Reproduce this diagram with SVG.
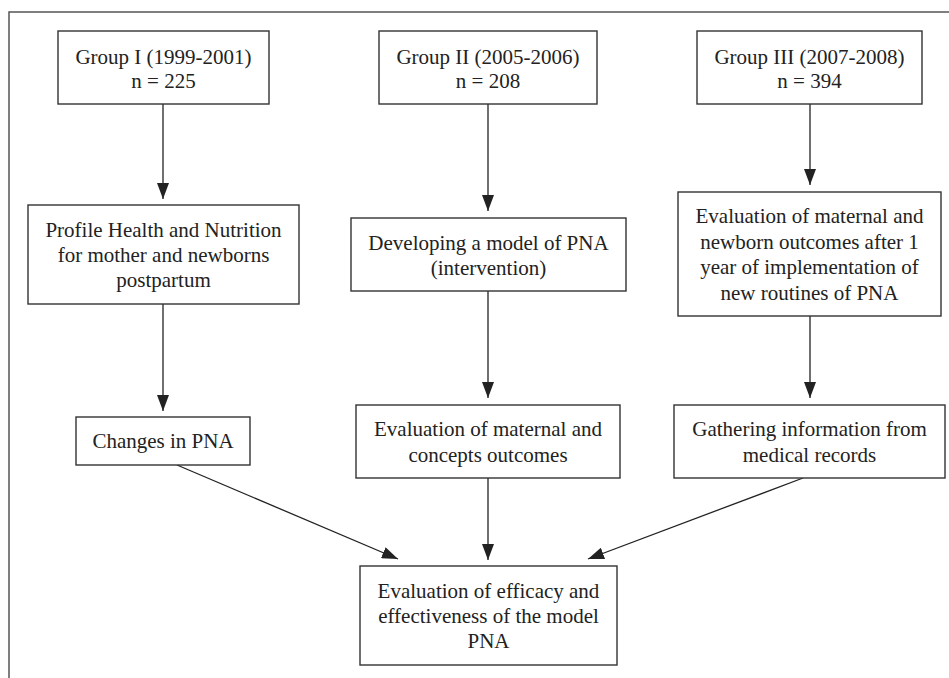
<svg xmlns="http://www.w3.org/2000/svg" width="949" height="678" viewBox="0 0 949 678">
<style>
.box{fill:#fff;stroke:#333;stroke-width:1.4}
.t{font-family:"Liberation Serif","Times New Roman",serif;font-size:21px;fill:#222;text-anchor:middle}
.c{stroke:#222;stroke-width:1.3;fill:none;marker-end:url(#ah)}
</style>
<defs>
<marker id="ah" markerUnits="userSpaceOnUse" markerWidth="16" markerHeight="12" refX="16" refY="6" orient="auto">
<path d="M0,0 L16,6 L0,12 z" fill="#222"/>
</marker>
</defs>
<rect width="949" height="678" fill="#fff"/>
<path d="M9,678 V12 H949" fill="none" stroke="#555" stroke-width="1.5"/>
<g id="connectors">
<line class="c" x1="163" y1="104" x2="163" y2="199"/>
<line class="c" x1="488" y1="104" x2="488" y2="211"/>
<line class="c" x1="810" y1="104" x2="810" y2="185"/>
<line class="c" x1="163" y1="304" x2="163" y2="411"/>
<line class="c" x1="488" y1="291" x2="488" y2="398"/>
<line class="c" x1="810" y1="316" x2="810" y2="398"/>
<line class="c" x1="177" y1="465" x2="398" y2="559"/>
<line class="c" x1="488" y1="478" x2="488" y2="560"/>
<line class="c" x1="803" y1="478" x2="588" y2="559"/>
</g>
<g id="g1">
<rect class="box" x="58" y="31" width="211" height="73"/>
<text class="t" x="163.5" y="64">Group I (1999-2001)</text>
<text class="t" x="163.5" y="88">n = 225</text>
</g>
<g id="g2">
<rect class="box" x="379" y="31" width="218" height="73"/>
<text class="t" x="488" y="64">Group II (2005-2006)</text>
<text class="t" x="488" y="88">n = 208</text>
</g>
<g id="g3">
<rect class="box" x="697" y="31" width="225" height="73"/>
<text class="t" x="809.5" y="64">Group III (2007-2008)</text>
<text class="t" x="809.5" y="88">n = 394</text>
</g>
<g id="profile">
<rect class="box" x="28" y="205" width="271" height="99"/>
<text class="t" x="163.5" y="237">Profile Health and Nutrition</text>
<text class="t" x="163.5" y="262">for mother and newborns</text>
<text class="t" x="163.5" y="287">postpartum</text>
</g>
<g id="developing">
<rect class="box" x="351" y="218" width="275" height="73"/>
<text class="t" x="488.5" y="250">Developing a model of PNA</text>
<text class="t" x="488.5" y="275">(intervention)</text>
</g>
<g id="evalIII">
<rect class="box" x="678" y="192" width="263" height="124"/>
<text class="t" x="809.5" y="223">Evaluation of maternal and</text>
<text class="t" x="809.5" y="249">newborn outcomes after 1</text>
<text class="t" x="809.5" y="274">year of implementation of</text>
<text class="t" x="809.5" y="300">new routines of PNA</text>
</g>
<g id="changes">
<rect class="box" x="76" y="417" width="174" height="48"/>
<text class="t" x="163" y="448">Changes in PNA</text>
</g>
<g id="evalII">
<rect class="box" x="356" y="405" width="264" height="73"/>
<text class="t" x="488" y="436">Evaluation of maternal and</text>
<text class="t" x="488" y="462">concepts outcomes</text>
</g>
<g id="gathering">
<rect class="box" x="674" y="405" width="271" height="73"/>
<text class="t" x="809.5" y="436">Gathering information from</text>
<text class="t" x="809.5" y="462">medical records</text>
</g>
<g id="final">
<rect class="box" x="360" y="566" width="257" height="99"/>
<text class="t" x="488.5" y="598">Evaluation of efficacy and</text>
<text class="t" x="488.5" y="623">effectiveness of the model</text>
<text class="t" x="488.5" y="648">PNA</text>
</g>
</svg>
